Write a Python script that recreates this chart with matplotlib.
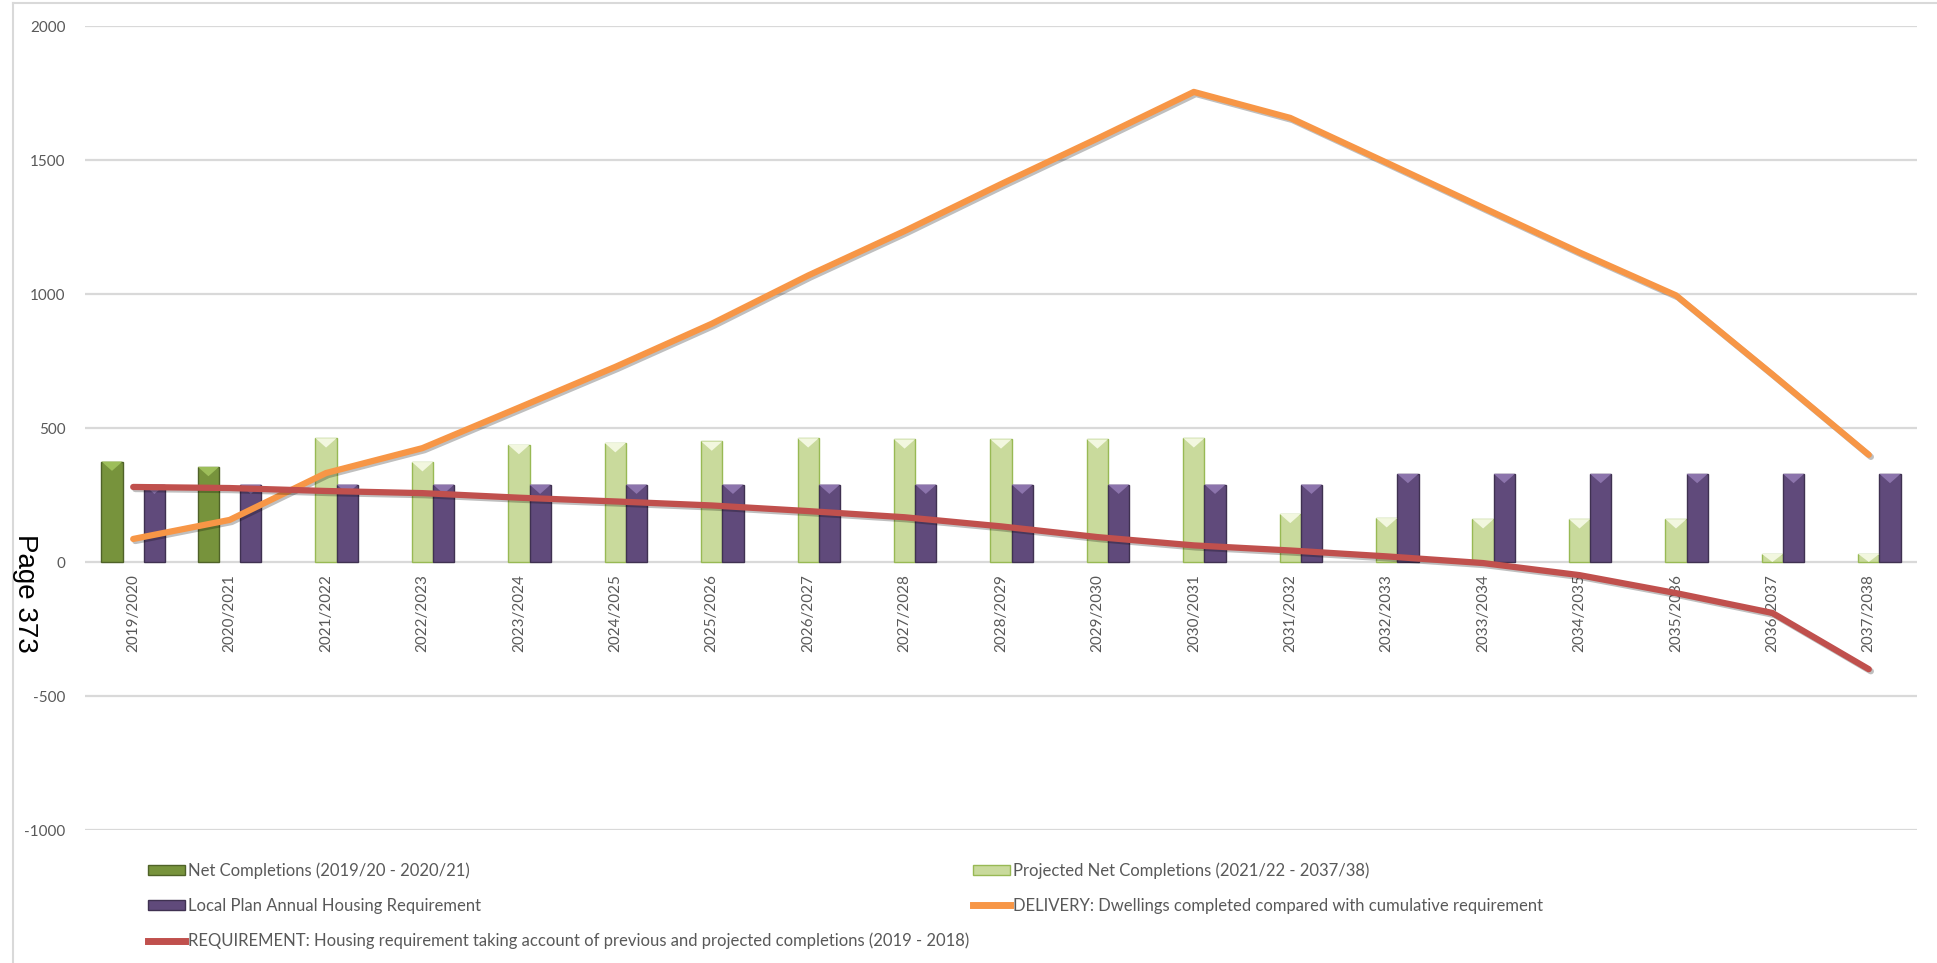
import numpy as np
import matplotlib
matplotlib.use('Agg')
import matplotlib.pyplot as plt
from matplotlib.patches import Patch, Polygon
from matplotlib.lines import Line2D
import matplotlib.patheffects as pe

plt.rcParams['font.family'] = ['Lato', 'DejaVu Sans']
plt.rcParams['axes.unicode_minus'] = False

# Data
categories = ['2019/2020', '2020/2021', '2021/2022', '2022/2023', '2023/2024',
              '2024/2025', '2025/2026', '2026/2027', '2027/2028', '2028/2029',
              '2029/2030', '2030/2031', '2031/2032', '2032/2033', '2033/2034',
              '2034/2035', '2035/2036', '2036/2037', '2037/2038']
net_completions = [375, 355]                       # 2019/20 - 2020/21
projected = [462, 373, 437, 444, 450, 462, 458, 458, 458, 462,
             180, 164, 160, 160, 160, 30, 30]      # 2021/22 - 2037/38
local_plan = [289, 289, 289, 289, 289, 289, 289, 289, 289, 289,
              289, 289, 289, 329, 329, 329, 329, 329, 329]
delivery = [86, 157, 332, 425, 576, 728, 889, 1069, 1235, 1410,
            1580, 1754, 1657, 1490, 1322, 1155, 995, 700, 400]
requirement = [280, 276, 265, 257, 240, 226, 211, 190, 167, 133,
               93, 62, 43, 21, -4, -49, -116, -190, -400]

grey = '#595959'
x = np.arange(len(categories))
w = 0.22

fig = plt.figure(figsize=(19.37, 9.63), dpi=100)
ax = fig.add_axes([85/1937, 1-830/963, (1917-85)/1937, (830-26)/963])
ax.set_xlim(-0.5, len(categories)-0.5)
ax.set_ylim(-1000, 2000)
ax.set_yticks(np.arange(-1000, 2001, 500))
ax.grid(axis='y', color='#D9D9D9', lw=1.6)
ax.set_axisbelow(True)
for s in ['top', 'right', 'left']:
    ax.spines[s].set_visible(False)
ax.spines['bottom'].set_position(('data', 0))
ax.spines['bottom'].set_visible(False)
ax.set_xticks(x)
ax.set_xticklabels(categories, rotation=90)
ax.tick_params(axis='both', length=0, colors=grey, labelsize=11)
ax.tick_params(axis='y', pad=14)
ax.tick_params(axis='x', pad=9)


def bevel(bars, light):
    # lighter triangle at the top of each bar
    for b in bars:
        h = b.get_height()
        if h <= 0:
            continue
        x0, bw = b.get_x(), b.get_width()
        d = min(35, h)
        ax.add_patch(Polygon([[x0, h], [x0+bw, h], [x0+bw/2, h-d]],
                             closed=True, facecolor=light, edgecolor='none', zorder=3))


b1 = ax.bar(x[:2]-w, net_completions, width=w, color='#77933C', edgecolor='#4F6228', lw=1, zorder=2)
b2 = ax.bar(x[2:], projected, width=w, color='#C9DA9C', edgecolor='#98B954', lw=1, zorder=2)
b3 = ax.bar(x+w, local_plan, width=w, color='#604A7B', edgecolor='#3F3151', lw=1, zorder=2)
bevel(b1, '#9DBE5A')
bevel(b2, '#F2F7DF')
bevel(b3, '#8C74AC')

shadow = [pe.SimpleLineShadow(offset=(1.5, -1.5), alpha=0.25), pe.Normal()]
ax.plot(x, delivery, color='#F79646', lw=4.5, solid_capstyle='round',
        path_effects=shadow, zorder=4)
ax.plot(x, requirement, color='#C0504D', lw=4.5, solid_capstyle='round',
        path_effects=shadow, zorder=4)

# legend
h_net = Patch(facecolor='#77933C', edgecolor='#4F6228')
h_proj = Patch(facecolor='#C9DA9C', edgecolor='#98B954')
h_local = Patch(facecolor='#604A7B', edgecolor='#3F3151')
h_del = Line2D([], [], color='#F79646', lw=5)
h_req = Line2D([], [], color='#C0504D', lw=5)

kw = dict(loc='upper left', frameon=False, fontsize=12, handlelength=2.2,
          handleheight=0.55, handletextpad=0.2, labelspacing=1.15,
          borderpad=0, borderaxespad=0, labelcolor=grey)
fig.legend([h_net, h_local, h_req],
           ['Net Completions (2019/20 - 2020/21)',
            'Local Plan Annual Housing Requirement',
            'REQUIREMENT: Housing requirement taking account of previous and projected completions (2019 - 2018)'],
           bbox_to_anchor=(148/1937, 1-862/963), **kw)
fig.legend([h_proj, h_del],
           ['Projected Net Completions (2021/22 - 2037/38)',
            'DELIVERY: Dwellings completed compared with cumulative requirement'],
           bbox_to_anchor=(973/1937, 1-862/963), **kw)

# chart frame and page stamp
fig.add_artist(Line2D([13/1937, 13/1937], [0, 1-3/963], transform=fig.transFigure,
                      color='#D9D9D9', lw=1.5))
fig.add_artist(Line2D([13/1937, 1], [1-3/963, 1-3/963], transform=fig.transFigure,
                      color='#D9D9D9', lw=1.5))
fig.text(25/1937, 1-593/963, 'Page 373', rotation=-90, fontsize=20,
         family='Liberation Sans', color='black', ha='center', va='center')

fig.savefig('out.png', dpi=100)
